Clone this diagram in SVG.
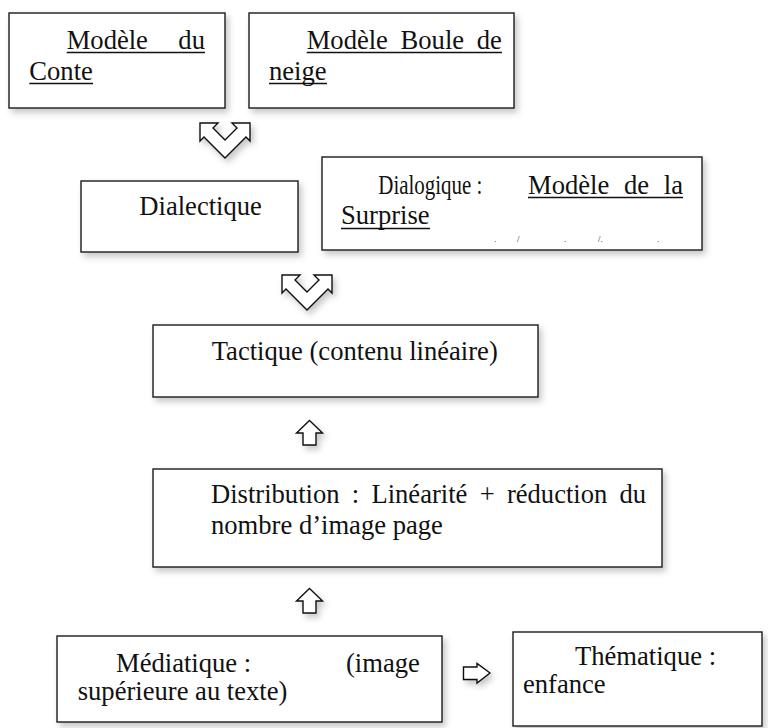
<svg xmlns="http://www.w3.org/2000/svg" width="768" height="728" viewBox="0 0 768 728">
<style>
.box{fill:#fff;stroke:#1a1a1a;stroke-width:1.4;filter:url(#sh)}
.t{font-family:'Liberation Serif','DejaVu Serif',serif;font-size:26.6px;fill:#111}
.u{stroke:#111;stroke-width:1.3}
.arr{fill:#fff;stroke:#111;stroke-width:1.4;stroke-linejoin:miter;filter:url(#sh)}
.dot{font-family:'Liberation Serif','DejaVu Serif',serif;font-size:9px;fill:#111}
</style>
<defs>
<filter id="sh" x="-20%" y="-20%" width="150%" height="160%">
<feDropShadow dx="3" dy="4" stdDeviation="3" flood-color="#000" flood-opacity="0.22"/>
</filter>
<path id="chev" d="M-25,0 L-7,0 L-12,5 L0,17 L12,5 L7,0 L25,0 L25,18 L21,14 L0,35 L-21,14 L-25,18 Z"/>
<path id="up" d="M0,0 L13,12.5 L6.5,12.5 L6.5,24.5 L-6.5,24.5 L-6.5,12.5 L-13,12.5 Z"/>
</defs>
<rect width="768" height="728" fill="#fff"/>

<g id="connectors">
<use href="#chev" class="arr" x="225" y="123"/>
<use href="#chev" class="arr" x="307" y="275"/>
<use href="#up" class="arr" x="309.5" y="420.5"/>
<use href="#up" class="arr" x="309.5" y="588.5"/>
<path class="arr" d="M490,673 L477,663.5 L477,667 L463.5,667 L463.5,679.5 L477,679.5 L477,683 Z"/>
</g>

<g id="modele-conte">
<rect class="box" x="9" y="13" width="216" height="95"/>
<text class="t" x="66.7" y="49" word-spacing="23.8">Modèle du</text>
<line class="u" x1="66.7" y1="52.5" x2="205" y2="52.5"/>
<text class="t" x="29.3" y="80">Conte</text>
<line class="u" x1="29.3" y1="83.5" x2="93" y2="83.5"/>
</g>

<g id="modele-boule-de-neige">
<rect class="box" x="249" y="13" width="265" height="95"/>
<text class="t" x="306.7" y="49" word-spacing="6">Modèle Boule de</text>
<line class="u" x1="306.7" y1="52.5" x2="502" y2="52.5"/>
<text class="t" x="269" y="80">neige</text>
<line class="u" x1="269" y1="83.5" x2="327" y2="83.5"/>
</g>

<g id="dialectique">
<rect class="box" x="81" y="181" width="217" height="71"/>
<text class="t" x="139.3" y="215">Dialectique</text>
</g>

<g id="dialogique">
<rect class="box" x="322" y="157" width="380" height="93"/>
<text class="t" x="378.3" y="194" textLength="104" lengthAdjust="spacingAndGlyphs">Dialogique :</text>
<text class="t" x="528" y="194" word-spacing="8.1">Modèle de la</text>
<line class="u" x1="528" y1="197.5" x2="683" y2="197.5"/>
<text class="t" x="341" y="224">Surprise</text>
<line class="u" x1="341" y1="228.5" x2="430" y2="228.5"/>
<text class="dot" x="494" y="242">.</text>
<text class="dot" x="517" y="242">/</text>
<text class="dot" x="564" y="242">.</text>
<text class="dot" x="598" y="242">/.</text>
<text class="dot" x="657" y="242">.</text>
</g>

<g id="tactique">
<rect class="box" x="153" y="325" width="385" height="72"/>
<text class="t" x="211.7" y="360">Tactique (contenu linéaire)</text>
</g>

<g id="distribution">
<rect class="box" x="153" y="469" width="509" height="98"/>
<text class="t" x="211" y="503" word-spacing="5.6">Distribution : Linéarité + réduction du</text>
<text class="t" x="211" y="534">nombre d’image page</text>
</g>

<g id="mediatique">
<rect class="box" x="57" y="636" width="385" height="86"/>
<text class="t" x="116" y="672">Médiatique :</text>
<text class="t" x="346" y="672">(image</text>
<text class="t" x="77.7" y="700">supérieure au texte)</text>
</g>

<g id="thematique">
<rect class="box" x="513" y="632" width="249" height="94"/>
<text class="t" x="575" y="665">Thématique :</text>
<text class="t" x="523" y="693">enfance</text>
</g>
</svg>
